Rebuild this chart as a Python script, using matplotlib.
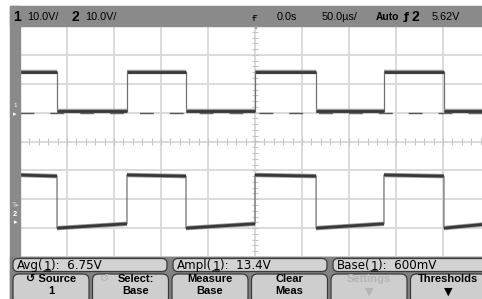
import numpy as np
import matplotlib
matplotlib.use('Agg')
import matplotlib.pyplot as plt
from matplotlib.patches import Rectangle, FancyBboxPatch

plt.rcParams['font.family'] = ['Liberation Sans', 'DejaVu Sans']

volts_per_div = 10.0
us_per_div = 50.0
fall_us = [-210.6, -73.4, 65.0, 201.0]      # falling edges (both channels)
rise_us = [-136.2, 0.0, 137.2]              # rising edges (trigger at 0)
ch1_high = [14.0, 14.0]                     # V at start / end of each high part
ch1_low = [0.6, 0.6]
ch2_high = [16.0, 15.6]
ch2_low = [-2.4, -0.9]
ch1_ground_div = 1.0
ch2_ground_div = -2.76
trig_level = 5.62

top_labels = ['10.0V/', '10.0V/', '0.0s', '50.0µs/', 'Auto', '5.62V']
meas_names = ['Avg', 'Ampl', 'Base']
meas_values = ['6.75V', '13.4V', '600mV']
buttons = [('↺ Source', '1'), ('↺ Select:', 'Base'), ('Measure', 'Base'),
           ('Clear', 'Meas'), ('Settings', '▼'), ('Thresholds', '▼')]


def square(levels_high, levels_low, t0=-250, t1=250):
    edges = sorted([(t, 'F') for t in fall_us] + [(t, 'R') for t in rise_us])
    segs = []
    start = t0
    state = 'H' if edges[0][1] == 'F' else 'L'
    for t, kind in edges + [(t1, 'E')]:
        segs.append((start, t, state))
        start = t
        state = 'H' if kind == 'R' else 'L'
    xs, ys, flats = [], [], []
    for a, b, s in segs:
        lv = levels_high if s == 'H' else levels_low
        xs += [a, b]
        ys += [lv[0], lv[1]]
        flats.append(([a, b], [lv[0], lv[1]]))
    return np.array(xs), np.array(ys), flats


fig = plt.figure(figsize=(4.82, 2.99), dpi=100)
fig.patch.set_facecolor('white')

# scope graticule area
ax = fig.add_axes([20 / 482, 42 / 299, 470 / 482, 231 / 299])
ax.set_xlim(-5 * us_per_div, 5 * us_per_div)
ax.set_ylim(-4, 4)
ax.set_xticks(np.arange(-5, 6) * us_per_div)
ax.set_yticks(np.arange(-4, 5))
ax.grid(True, color='#dadada', lw=1.4)
ax.tick_params(length=0, labelbottom=False, labelleft=False)
for s in ax.spines.values():
    s.set_visible(False)
ax.vlines(np.arange(-250, 251, 10), -0.11, 0.11, color='#c4c4c4', lw=0.8)
ax.hlines(np.arange(-4, 4.01, 0.2), -3.5, 3.5, color='#c4c4c4', lw=0.8)

# ch1 ground reference dashes
gl, = ax.plot([-250, 250], [ch1_ground_div, ch1_ground_div], color='#555555', lw=1.0)
gl.set_dashes((10, 11.5))

for hi, lo, off in [(ch1_high, ch1_low, ch1_ground_div), (ch2_high, ch2_low, ch2_ground_div)]:
    xs, ys, flats = square(hi, lo)
    ax.plot(xs, ys / volts_per_div + off, color='#707070', lw=0.9, solid_joinstyle='round')
    for fx, fy in flats:
        fy = np.array(fy) / volts_per_div + off
        ax.plot(fx, fy, color='#9a9a9a', lw=3.2, solid_capstyle='butt')
        ax.plot(fx, fy, color='#383838', lw=2.0, solid_capstyle='butt')

# chrome overlay in pixel coordinates
bg = fig.add_axes([0, 0, 1, 1])
bg.set_xlim(0, 482)
bg.set_ylim(299, 0)
bg.axis('off')
bg.patch.set_visible(False)
gray = '#8a8a8a'
bg.add_patch(Rectangle((10, 6), 472, 20, color=gray))
bg.add_patch(Rectangle((10, 6), 10, 293, color=gray))
bg.add_patch(Rectangle((10, 257), 472, 42, color='#828282'))

# top bar text
bg.text(13, 17, '1', fontsize=10, fontweight='bold', va='center')
bg.text(27, 17, top_labels[0], fontsize=7.8, va='center')
bg.text(71, 17, '2', fontsize=10, fontweight='bold', va='center')
bg.text(85, 17, top_labels[1], fontsize=7.8, va='center')
bg.text(255, 18, 'ғ', fontsize=7, va='center', ha='center', family=['DejaVu Sans'])
bg.text(256, 27, '▾', fontsize=6, color='#9a9a9a', va='center', ha='center', family=['DejaVu Sans'])
bg.text(277, 17, top_labels[2], fontsize=7.8, va='center')
bg.text(322, 17, top_labels[3], fontsize=7.8, va='center')
bg.text(376, 17, top_labels[4], fontsize=7.4, fontweight='bold', va='center')
bg.text(404, 17, 'ƒ', fontsize=8, fontweight='bold', va='center', family=['DejaVu Sans'])
bg.text(412, 17, '2', fontsize=10, fontweight='bold', va='center')
bg.text(432, 17, top_labels[5], fontsize=7.8, va='center')


# channel markers on the left strip
def div_to_px(d):
    return 141.5 - d * 231 / 8


bg.text(15, div_to_px(ch1_ground_div) - 7, '1', fontsize=4.5, color='white', ha='center', va='center')
bg.text(15, div_to_px(ch1_ground_div) + 1, '▸', fontsize=5, color='white', ha='center', va='center', family=['DejaVu Sans'])
tl = ch2_ground_div + trig_level / volts_per_div
bg.text(15, div_to_px(tl), 'T▸', fontsize=5, color='#c8c8c8', ha='center', va='center', family=['DejaVu Sans'])
bg.text(15, div_to_px(ch2_ground_div) - 7, '2', fontsize=5.5, color='white', fontweight='bold', ha='center', va='center')
bg.text(16, div_to_px(ch2_ground_div) + 1, '▸', fontsize=5, color='white', ha='center', va='center', family=['DejaVu Sans'])

# measurement boxes
mfont = dict(fontsize=8.6, family=['DejaVu Sans'], va='bottom')
for (x0, x1), name, val in zip([(13, 167), (173, 327), (333, 492)], meas_names, meas_values):
    bg.add_patch(FancyBboxPatch((x0, 258.5), x1 - x0, 13, boxstyle='round,pad=0,rounding_size=5',
                                fc='#d2d2d2', ec='#3a3a3a', lw=0.9))
    t1 = bg.text(x0 + 4, 272.5, name + '(', **mfont)
    t2 = bg.annotate('1', xy=(1, 0), xycoords=t1, **mfont)
    bg.annotate('', xy=(0.95, 0.12), xycoords=t2, xytext=(0.05, 0.12), textcoords=t2,
                arrowprops=dict(arrowstyle='-', lw=0.8, shrinkA=0, shrinkB=0, color='black'))
    bg.annotate('):  ' + val, xy=(1, 0), xycoords=t2, **mfont)

# softkeys
for i, (l1, l2) in enumerate(buttons):
    x0 = 13 + i * 79.5
    bg.add_patch(FancyBboxPatch((x0, 274), 76, 30, boxstyle='round,pad=0,rounding_size=6',
                                fc='#cecece', ec='#3a3a3a', lw=0.9))
    c = '#b4b4b4' if l1 == 'Settings' else 'black'
    cx = x0 + 38
    if l1.startswith('↺ Select'):
        bg.text(x0 + 12, 279, '↺', fontsize=8, color='#b4b4b4', ha='center', va='center', family=['DejaVu Sans'])
        l1 = l1[2:]
        cx += 5
    bg.text(cx, 279.5, l1, fontsize=8, fontweight='bold', color=c, ha='center', va='center')
    bg.text(cx, 291.5, l2, fontsize=8, fontweight='bold', color=c, ha='center', va='center',
            family=['DejaVu Sans'] if l2 == '▼' else ['Liberation Sans', 'DejaVu Sans'])

fig.savefig('out.png', dpi=100)
